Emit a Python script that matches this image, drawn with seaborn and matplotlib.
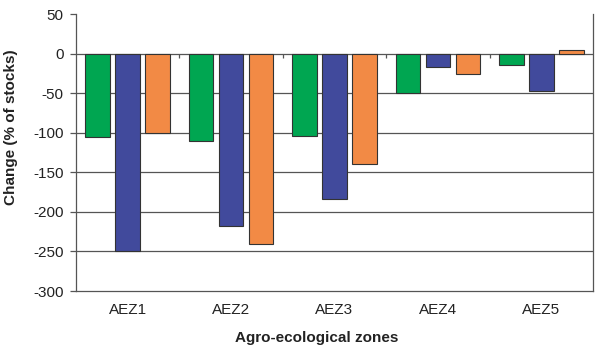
import matplotlib
matplotlib.use("Agg")
import matplotlib.pyplot as plt
import pandas as pd
import seaborn as sns

zones = ["AEZ1", "AEZ2", "AEZ3", "AEZ4", "AEZ5"]
series_names = ["Series A", "Series B", "Series C"]
series_a = [-105, -111, -104, -50, -14]
series_b = [-250, -218, -184, -17, -47]
series_c = [-100, -241, -139, -26, 5]
y_ticks = [50, 0, -50, -100, -150, -200, -250, -300]

colors = ["#00A651", "#414A9C", "#F28A45"]

df = pd.DataFrame({
    "zone": zones * 3,
    "series": [s for s in series_names for _ in zones],
    "value": series_a + series_b + series_c,
})

sns.set_style("white")
plt.rcParams["font.family"] = ["Liberation Sans", "DejaVu Sans"]
plt.rcParams["axes.unicode_minus"] = False

fig = plt.figure(figsize=(5.99, 3.54), dpi=100)
ax = fig.add_axes([76 / 599, 1 - 291 / 354, 517 / 599, 277 / 354])

sns.barplot(data=df, x="zone", y="value", hue="series", order=zones,
            hue_order=series_names, palette=colors, width=0.87, gap=0.18,
            edgecolor="#333333", linewidth=0.8, saturation=1, legend=False,
            ax=ax, zorder=3)

ax.set_ylim(-300, 50)
ax.set_yticks(y_ticks)
ax.set_xlim(-0.5, len(zones) - 0.5)

# gridlines (Excel style), none at the top
for v in y_ticks[1:-1]:
    ax.axhline(v, color="#555555", linewidth=0.9, zorder=1)

# small category-boundary ticks hanging below the zero line
ax.vlines([i + 0.5 for i in range(len(zones) - 1)], -6, 0,
          color="#555555", linewidth=0.9, zorder=2)

for side in ["left", "right", "bottom"]:
    ax.spines[side].set_visible(True)
    ax.spines[side].set_color("#555555")
    ax.spines[side].set_linewidth(0.9)
ax.spines["top"].set_visible(False)

ax.tick_params(axis="y", left=True, length=4, width=0.9, color="#555555",
               labelsize=11, pad=5, labelcolor="#222222")
ax.tick_params(axis="x", bottom=False, labelsize=11, pad=5,
               labelcolor="#222222")

ax.set_xlabel("Agro-ecological zones", fontsize=11, fontweight="bold",
              color="#222222")
ax.set_ylabel("Change (% of stocks)", fontsize=11, fontweight="bold",
              color="#222222")
ax.xaxis.set_label_coords(0.466, -0.145)
ax.yaxis.set_label_coords(-0.112, 0.59)

fig.savefig("out.png", dpi=100)
